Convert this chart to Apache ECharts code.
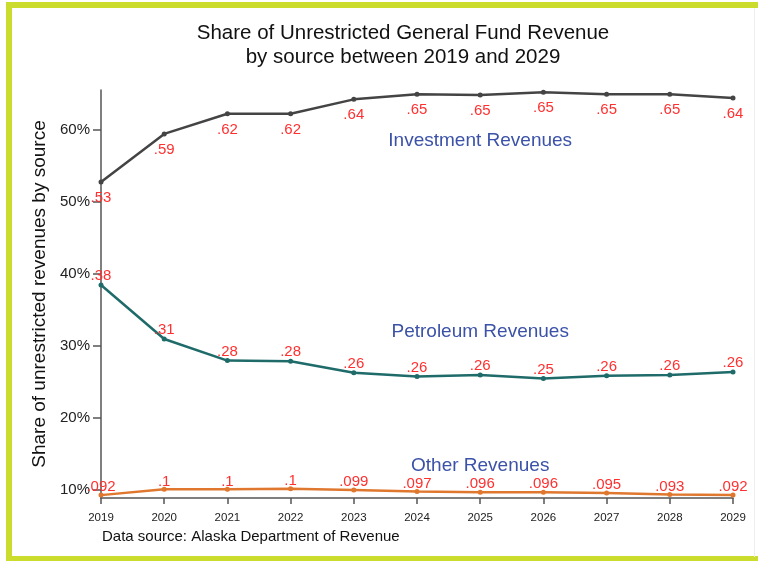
<!DOCTYPE html>
<html>
<head>
<meta charset="utf-8">
<script src="https://cdn.jsdelivr.net/npm/echarts@6/dist/echarts.min.js"></script>
<style>
html,body{margin:0;padding:0;background:#fff;}
#frame{position:absolute;left:6px;top:2px;width:752px;height:559px;box-sizing:border-box;border-top:6px solid #cbdc2c;border-left:6px solid #cbdc2c;border-bottom:5px solid #cbdc2c;}
#edge{position:absolute;left:754px;top:8px;width:1px;height:549px;background:#eee;}
#chart{position:absolute;left:0;top:0;width:758px;height:563px;}
</style>
</head>
<body>
<div id="frame"></div>
<div id="edge"></div>
<div id="chart"></div>
<script>
const years = ['2019','2020','2021','2022','2023','2024','2025','2026','2027','2028','2029'];
const investment = [0.527, 0.594, 0.622, 0.622, 0.642, 0.649, 0.648, 0.652, 0.649, 0.649, 0.644];
const petroleum  = [0.384, 0.309, 0.279, 0.278, 0.262, 0.257, 0.259, 0.254, 0.258, 0.259, 0.263];
const other      = [0.092, 0.100, 0.100, 0.101, 0.099, 0.097, 0.096, 0.096, 0.095, 0.093, 0.092];
const yTicks = [0.1, 0.2, 0.3, 0.4, 0.5, 0.6];
const seriesNames = ['Investment Revenues', 'Petroleum Revenues', 'Other Revenues'];
const nameAnchors = [['2025', 0.584], ['2025', 0.319], ['2025', 0.133]];

const fmt = p => String(parseFloat(Number(p.value).toPrecision(2))).replace(/^0/, '');
const font = 'Liberation Sans, Arial, sans-serif';

function makeSeries(name, data, color, pos, dist, anchor) {
  return {
    name: name, type: 'line', data: data,
    symbol: 'circle', symbolSize: 5,
    lineStyle: {color: color, width: 2.5},
    itemStyle: {color: color},
    label: {show: true, position: pos, distance: dist, formatter: fmt,
            color: '#ff3030', fontSize: 15, fontFamily: font},
    markPoint: {
      symbol: 'circle', symbolSize: 0,
      data: [{coord: anchor, value: name}],
      label: {show: true, formatter: name, color: '#3b52a8', fontSize: 19, fontFamily: font, position: 'inside'}
    },
    z: 3
  };
}

const chart = echarts.init(document.getElementById('chart'));
chart.setOption({
  animation: false,
  backgroundColor: 'transparent',
  textStyle: {fontFamily: font},
  title: [
    {text: 'Share of Unrestricted General Fund Revenue\nby source between 2019 and 2029',
     left: 403, top: 21, textAlign: 'center', padding: 0,
     textStyle: {fontSize: 20.5, fontWeight: 'normal', color: '#111', lineHeight: 24, fontFamily: font}},
    {text: 'Data source: Alaska Department of Revenue', left: 102, top: 529, padding: 0,
     textStyle: {fontSize: 15, fontWeight: 'normal', color: '#111', fontFamily: font}}
  ],
  grid: {left: 101, right: 25, top: 90, bottom: 65},
  xAxis: {
    type: 'category', data: years, boundaryGap: false,
    axisLine: {lineStyle: {color: '#555', width: 1.5}},
    axisTick: {show: true, length: 6, alignWithLabel: true, lineStyle: {color: '#555', width: 1.5}},
    axisLabel: {color: '#222', fontSize: 11.5, margin: 14, fontFamily: font}
  },
  yAxis: {
    type: 'value', min: 0.088, max: 0.655,
    name: 'Share of unrestricted revenues by source',
    nameLocation: 'middle', nameGap: 52, nameRotate: 90,
    nameTextStyle: {fontSize: 19, color: '#111', fontFamily: font},
    splitLine: {show: false},
    axisLine: {show: true, lineStyle: {color: '#555', width: 1.5}},
    axisTick: {show: true, length: 8, customValues: yTicks, lineStyle: {color: '#555', width: 1.5}},
    axisLabel: {customValues: yTicks, color: '#222', fontSize: 15, margin: 11, fontFamily: font,
                formatter: v => Math.round(v * 100) + '%'}
  },
  series: [
    makeSeries(seriesNames[0], investment, '#444444', 'bottom', 6, nameAnchors[0]),
    makeSeries(seriesNames[1], petroleum, '#1e6b6a', 'top', -1, nameAnchors[1]),
    makeSeries(seriesNames[2], other, '#e0772e', 'top', -2, nameAnchors[2])
  ]
});
</script>
</body>
</html>
